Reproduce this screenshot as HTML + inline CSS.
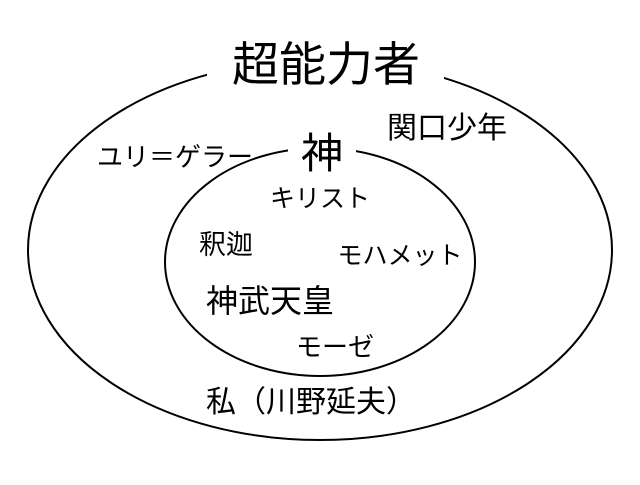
<!DOCTYPE html>
<html><head><meta charset="utf-8"><style>
html,body{margin:0;padding:0;background:#fff;}
svg text{font-family:"Liberation Sans","Noto Sans CJK JP",sans-serif;fill:#000;}
</style></head><body>
<svg width="640" height="480" viewBox="0 0 640 480" xmlns="http://www.w3.org/2000/svg">
<rect width="640" height="480" fill="#fff"/>
<ellipse cx="320" cy="250" rx="292" ry="190" fill="none" stroke="#000" stroke-width="2"/>
<ellipse cx="320" cy="262" rx="155" ry="114" fill="none" stroke="#000" stroke-width="2"/>
<rect x="207" y="40" width="237" height="40" fill="#fff"/>
<rect x="288" y="135" width="68" height="30" fill="#fff"/>
<text x="326" y="81" font-size="47" text-anchor="middle">超能力者</text>
<text x="322" y="168" font-size="42" text-anchor="middle">神</text>
<text x="175" y="166" font-size="26" text-anchor="middle">ユリ＝ゲラー</text>
<text x="447" y="138" font-size="30" text-anchor="middle">関口少年</text>
<text x="320" y="207" font-size="25" text-anchor="middle">キリスト</text>
<text x="226" y="254" font-size="27" text-anchor="middle">釈迦</text>
<text x="400" y="264" font-size="25" text-anchor="middle">モハメット</text>
<text x="270" y="312" font-size="32" text-anchor="middle">神武天皇</text>
<text x="335" y="356" font-size="26" text-anchor="middle">モーゼ</text>
<text x="311" y="412" font-size="30" text-anchor="middle">私（川野延夫）</text>
</svg>
</body></html>
